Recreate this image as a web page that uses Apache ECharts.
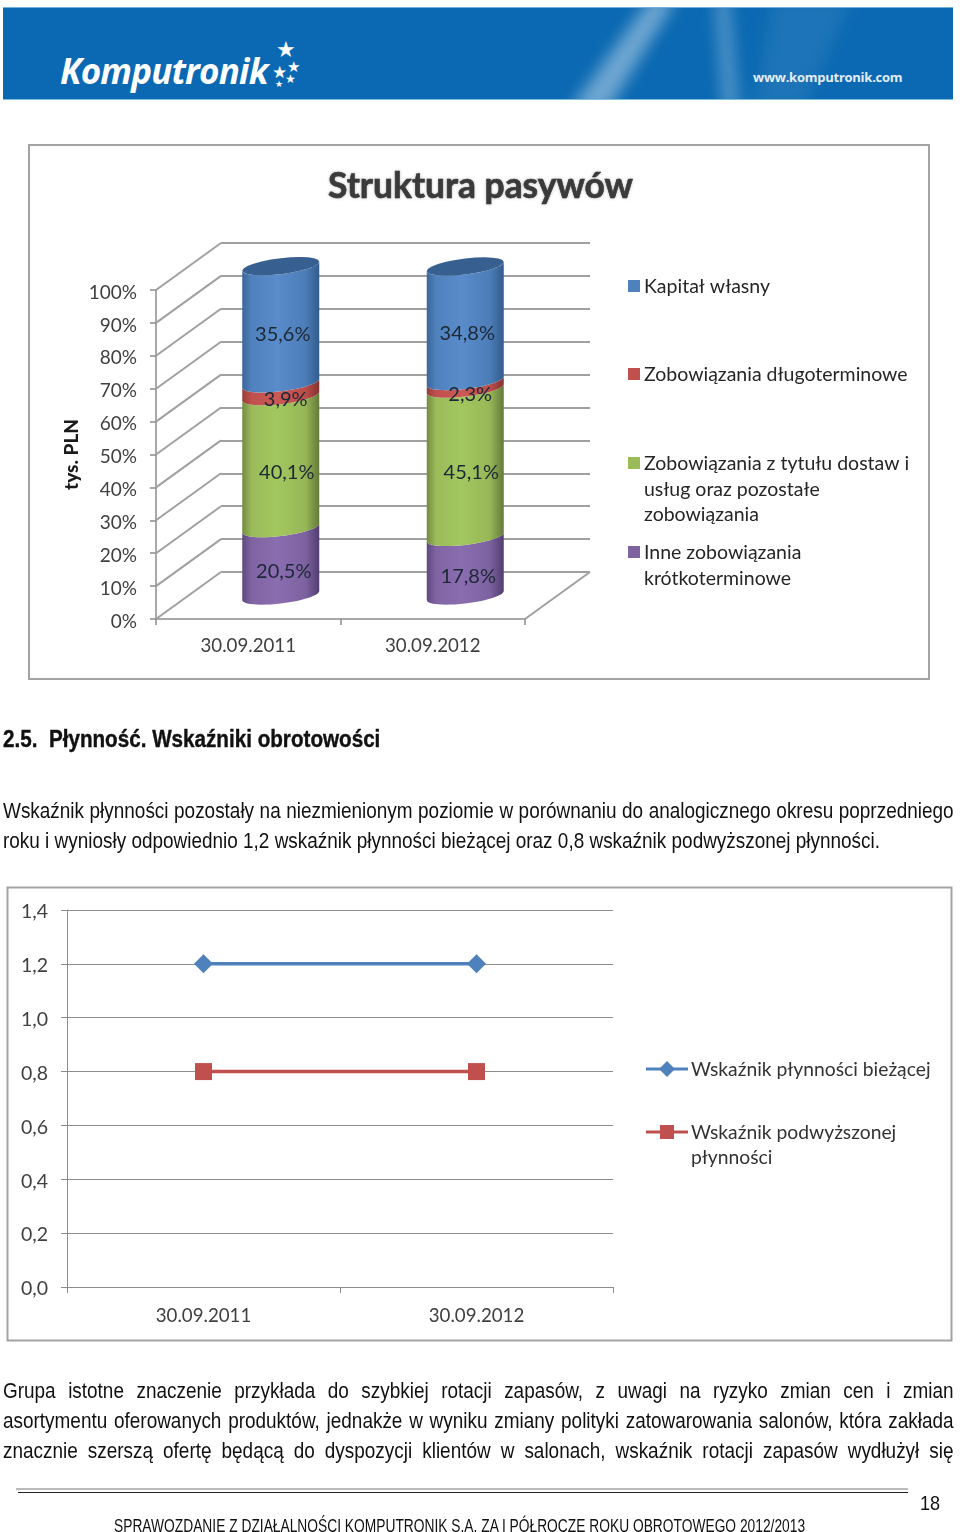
<!DOCTYPE html>
<html lang="pl">
<head>
<meta charset="utf-8">
<title>Struktura pasywów</title>
<script src="https://cdn.jsdelivr.net/npm/echarts@6/dist/echarts.min.js"></script>
<style>
  html, body { margin: 0; padding: 0; background: #fff; }
  #page { position: relative; width: 960px; height: 1532px; overflow: hidden; }
  #chart { position: absolute; left: 0; top: 0; width: 960px; height: 1532px; }
  .banner { position: absolute; left: 3px; top: 7px; width: 950px; height: 93px; background: #0a69b2; overflow: hidden;
    border-top: 1px solid #6fb0dc; border-bottom: 1px solid #7fbce2; box-sizing: border-box; }
  .rays { position: absolute; left: 0; top: -10px; width: 950px; height: 113px; filter: blur(8px); }
  .ray { position: absolute; left: 500px; top: 0; width: 400px; height: 113px; }
  .logo { position: absolute; left: 57px; top: 39px; color: #fff; font: italic bold 35px "Open Sans", sans-serif; letter-spacing: -0.8px; }
  .star { position: absolute; color: #fff; font-family: "DejaVu Sans"; line-height: 1; }
  .www { position: absolute; left: 750px; top: 60px; color: #e4edf5; font: bold 13px "Open Sans", sans-serif; letter-spacing: -0.25px; }
  /* brak fontu narrow, wiec Liberation Sans scisniety w poziomie */
  .line { position: absolute; left: 3px; width: 1104px; white-space: nowrap; color: #111; transform-origin: 0 0; transform: scaleX(.861);
    font: 22px "Liberation Sans", sans-serif; line-height: 30px; }
  .just { text-align: justify; text-align-last: justify; white-space: normal; }
  .heading { font-weight: bold; font-size: 24px; transform: scaleX(.86); -webkit-text-stroke: .4px #111; }
  .rule1 { position: absolute; left: 16px; top: 1488px; width: 892px; height: 2px; background: #bbb; }
  .rule2 { position: absolute; left: 18px; top: 1492px; width: 890px; height: 1px; background: #222; }
</style>
</head>
<body>
<div id="page">
  <div class="banner">
    <div class="rays">
      <div class="ray" style="background:rgba(255,255,255,.42);clip-path:polygon(148px 0,174px 0,104px 113px,66px 113px)"></div>
      <div class="ray" style="background:rgba(255,255,255,.3);clip-path:polygon(212px 0,226px 0,236px 113px,220px 113px)"></div>
      <div class="ray" style="background:rgba(255,255,255,.08);clip-path:polygon(270px 0,350px 0,300px 113px,250px 113px)"></div>
    </div>
    <div class="logo">Komputronik</div>
    <div class="star" style="left:273px;top:31px;font-size:22px">★</div>
    <div class="star" style="left:284px;top:52px;font-size:15px">★</div>
    <div class="star" style="left:269px;top:56px;font-size:17px">★</div>
    <div class="star" style="left:282px;top:65px;font-size:12px">★</div>
    <div class="star" style="left:272px;top:72px;font-size:9px">★</div>
    <div class="www">www.komputronik.com</div>
  </div>
  <div id="chart"></div>
  <div class="line heading" style="top:724px">2.5.&nbsp; Płynność. Wskaźniki obrotowości</div>
  <div class="line just" style="top:796px">Wskaźnik płynności pozostały na niezmienionym poziomie w porównaniu do analogicznego okresu poprzedniego</div>
  <div class="line" style="top:826px">roku i wyniosły odpowiednio 1,2 wskaźnik płynności bieżącej oraz 0,8 wskaźnik podwyższonej płynności.</div>
  <div class="line just" style="top:1376px">Grupa istotne znaczenie przykłada do szybkiej rotacji zapasów, z uwagi na ryzyko zmian cen i zmian</div>
  <div class="line just" style="top:1406px">asortymentu oferowanych produktów, jednakże w wyniku zmiany polityki zatowarowania salonów, która zakłada</div>
  <div class="line just" style="top:1436px">znacznie szerszą ofertę będącą do dyspozycji klientów w salonach, wskaźnik rotacji zapasów wydłużył się</div>
  <div class="rule1"></div>
  <div class="rule2"></div>
  <div class="line" style="left:920px;top:1488px;width:30px;font-size:21px">18</div>
  <div class="line" style="left:114px;top:1511px;width:920px;font-size:18px;transform:scaleX(.766)">SPRAWOZDANIE Z DZIAŁALNOŚCI KOMPUTRONIK S.A. ZA I PÓŁROCZE ROKU OBROTOWEGO 2012/2013</div>
</div>
<script>
// dane - struktura pasywow
const barDates = ['30.09.2011', '30.09.2012'];
const innePct = [20.5, 17.8];
const dostawyPct = [40.1, 45.1];
const dlugoPct = [3.9, 2.3];
const kapitalPct = [35.6, 34.8];
const percentTicks = [0, 10, 20, 30, 40, 50, 60, 70, 80, 90, 100];
const barLegend = ['Kapitał własny', 'Zobowiązania długoterminowe', 'Zobowiązania z tytułu dostaw i\nusług oraz pozostałe\nzobowiązania', 'Inne zobowiązania\nkrótkoterminowe'];

// dane - plynnosc
const lineDates = ['30.09.2011', '30.09.2012'];
const biezaca = [1.2, 1.2];
const podwyzszona = [0.8, 0.8];
const lineLegend = ['Wskaźnik płynności bieżącej', 'Wskaźnik podwyższonej\npłynności'];

const font = 'Lato';
const axisGray = '#8c8c8c';
const depthX = 65, depthY = -47;

// kolejnosc od dolu slupka
const stack = [innePct, dostawyPct, dlugoPct, kapitalPct];
const shades = [
  ['#5f4880', '#8064a2', '#8a6db0', '#7d62a0', '#523d70'],
  ['#728c41', '#9bbb59', '#a3c75f', '#97b756', '#64793a'],
  ['#943e3b', '#c0504d', '#cb5a56', '#bb4e4b', '#843330'],
  ['#3b6698', '#4f81bd', '#5a8ccb', '#4c7db8', '#325c8c']
];
const labelShift = [3, 6, 5, 2];

const pct = v => v.toFixed(1).replace('.', ',') + '%';

// luk elipsy podstawy walca, lekko pochylonej
const ellipse = (cx, cy, from, to) => {
  const a = 38.5, b = 8, k = 4.5, pts = [];
  for (let i = 0; i <= 24; i++) {
    const t = from + (to - from) * i / 24;
    pts.push([cx + a * Math.cos(t), cy + b * Math.sin(t) - k * Math.cos(t)]);
  }
  return pts;
};

const renderSegment = (layer) => (params, api) => {
  const i = api.value(0), val = api.value(1);
  let base = 0;
  for (let s = 0; s < layer; s++) base += stack[s][i];
  const low = api.coord([i, base]), high = api.coord([i, base + val]);
  const cx = low[0] + depthX / 2;
  const y0 = low[1] + depthY / 2, y1 = high[1] + depthY / 2;
  const c = shades[layer];
  const body = ellipse(cx, y0, Math.PI, 0).concat(ellipse(cx, y1, 0, Math.PI));
  const children = [{
    type: 'polygon',
    shape: { points: body },
    style: { fill: { type: 'linear', x: 0, y: 0, x2: 1, y2: 0, colorStops: [
      { offset: 0, color: c[0] }, { offset: 0.12, color: c[1] }, { offset: 0.45, color: c[2] },
      { offset: 0.82, color: c[3] }, { offset: 1, color: c[4] }] } }
  }];
  if (layer === stack.length - 1) {
    children.push({ type: 'polygon', shape: { points: ellipse(cx, y1, 0, Math.PI * 2) }, style: { fill: '#375f90' } });
  }
  children.push({
    type: 'text',
    z2: 10,
    style: { x: cx + labelShift[layer], y: (y0 + y1) / 2 + 10, text: pct(val), fill: '#1d2836', font: '20px ' + font, align: 'center', verticalAlign: 'middle' }
  });
  return { type: 'group', children };
};

// skosne linie sciany bocznej i podlogi
const renderWall = (params, api) => {
  const y = api.coord([0, api.value(1)])[1];
  const left = params.coordSys.x, right = left + params.coordSys.width;
  const style = { stroke: '#a0a0a0', lineWidth: 2, fill: 'none' };
  const lines = [{ type: 'line', shape: { x1: left, y1: y, x2: left + depthX, y2: y + depthY }, style }];
  if (api.value(1) === 0) lines.push({ type: 'line', shape: { x1: right, y1: y, x2: right + depthX, y2: y + depthY }, style });
  return { type: 'group', children: lines };
};

const legendRow = (color, text, x, y) => [
  { type: 'rect', shape: { x, y: y - 6, width: 12, height: 12 }, style: { fill: color } },
  { type: 'text', x: x + 16, y: y - 12, style: { text, fill: '#262626', font: '19.5px ' + font, lineHeight: 25.5 } }
];

const lineRow = (color, symbol, text, x, y) => {
  const marker = symbol === 'diamond'
    ? { type: 'polygon', shape: { points: [[x + 21, y - 8], [x + 29, y], [x + 21, y + 8], [x + 13, y]] }, style: { fill: color } }
    : { type: 'rect', shape: { x: x + 14, y: y - 7, width: 14, height: 14 }, style: { fill: color } };
  return [
    { type: 'line', shape: { x1: x, y1: y, x2: x + 42, y2: y }, style: { stroke: color, lineWidth: 3 } },
    marker,
    { type: 'text', x: x + 45, y: y - 12, style: { text, fill: '#333', font: '19.3px ' + font, lineHeight: 25.5 } }
  ];
};

const option = {
  animation: false,
  textStyle: { fontFamily: font },
  title: {
    text: 'Struktura pasywów', left: 323, top: 164,
    textStyle: { fontFamily: font, fontSize: 35.4, fontWeight: 'bold', color: '#3a3a3a', textBorderColor: '#3a3a3a', textBorderWidth: 0.6, textShadowColor: 'rgba(0,0,0,.25)', textShadowBlur: 3 }
  },
  grid: [
    { left: 156, top: 290, width: 369, height: 329 },           // uklad slupkow
    { left: 221, top: 243, width: 369, height: 329 },           // tylna sciana
    { left: 67, top: 910, width: 546, height: 377 }             // plynnosc
  ],
  xAxis: [
    {
      gridIndex: 0, type: 'category', data: barDates,
      axisLine: { lineStyle: { color: axisGray, width: 1.5 } },
      axisTick: { show: true, length: 6, lineStyle: { color: axisGray, width: 1.5 } },
      axisLabel: { color: '#404040', fontSize: 18.7, margin: 17 }
    },
    { gridIndex: 1, type: 'category', data: barDates, show: false },
    {
      gridIndex: 2, type: 'category', data: lineDates,
      axisLine: { lineStyle: { color: axisGray } },
      axisTick: { show: true, length: 6, lineStyle: { color: axisGray } },
      axisLabel: { color: '#404040', fontSize: 18.7, margin: 19 }
    }
  ],
  yAxis: [
    {
      gridIndex: 0, type: 'value', min: 0, max: 100, interval: 10,
      name: 'tys. PLN', nameLocation: 'middle', nameGap: 75,
      nameTextStyle: { color: '#1a1a1a', fontSize: 19, fontWeight: 900 },
      axisLine: { show: true, lineStyle: { color: axisGray, width: 1.5 } },
      axisTick: { show: true, length: 6, lineStyle: { color: axisGray, width: 1.5 } },
      axisLabel: {
        margin: 19, formatter: v => '{v|' + v + '%}',
        rich: { v: { color: '#404040', fontSize: 19, fontFamily: font, padding: [5, 0, 0, 0] } }
      },
      splitLine: { show: false }
    },
    {
      gridIndex: 1, type: 'value', min: 0, max: 100, interval: 10,
      axisLine: { show: false }, axisTick: { show: false }, axisLabel: { show: false },
      splitLine: { show: true, lineStyle: { color: '#a0a0a0', width: 2 } }
    },
    {
      gridIndex: 2, type: 'value', min: 0, max: 1.4, interval: 0.2,
      axisLine: { show: true, lineStyle: { color: axisGray } },
      axisTick: { show: true, length: 6, lineStyle: { color: axisGray } },
      axisLabel: {
        margin: 19, formatter: v => '{v|' + v.toFixed(1).replace('.', ',') + '}',
        rich: { v: { color: '#404040', fontSize: 19.5, fontFamily: font, padding: [4, 0, 0, 0] } }
      },
      splitLine: { show: true, lineStyle: { color: '#8c8c8c', width: 1 } }
    }
  ],
  graphic: [
    { type: 'rect', z: -1, shape: { x: 29, y: 145, width: 900, height: 534 }, style: { fill: '#fff', stroke: '#a3a3a3', lineWidth: 2 } },
    { type: 'rect', z: -1, shape: { x: 7.5, y: 887.5, width: 944, height: 453 }, style: { fill: '#fff', stroke: '#a3a3a3', lineWidth: 2 } },
    ...legendRow(shades[3][1], barLegend[0], 628, 286),
    ...legendRow(shades[2][1], barLegend[1], 628, 374),
    ...legendRow(shades[1][1], barLegend[2], 628, 463),
    ...legendRow(shades[0][1], barLegend[3], 628, 552),
    ...lineRow('#4f81bd', 'diamond', lineLegend[0], 646, 1069),
    ...lineRow('#c0504d', 'rect', lineLegend[1], 646, 1132)
  ],
  series: [
    { type: 'custom', name: 'ściana', xAxisIndex: 0, yAxisIndex: 0, silent: true, renderItem: renderWall, data: percentTicks.map(v => [0, v]), z: 1 },
    ...stack.map((vals, layer) => ({
      type: 'custom',
      name: barLegend[3 - layer].replace(/\n/g, ' '),
      xAxisIndex: 0, yAxisIndex: 0,
      renderItem: renderSegment(layer),
      data: vals.map((v, i) => [i, v]),
      z: 3
    })),
    {
      type: 'line', name: 'Wskaźnik płynności bieżącej', xAxisIndex: 2, yAxisIndex: 2, data: biezaca,
      symbol: 'diamond', symbolSize: 19, lineStyle: { color: '#4f81bd', width: 3.5 }, itemStyle: { color: '#4f81bd' }
    },
    {
      type: 'line', name: 'Wskaźnik podwyższonej płynności', xAxisIndex: 2, yAxisIndex: 2, data: podwyzszona,
      symbol: 'rect', symbolSize: 17, lineStyle: { color: '#c0504d', width: 3.5 }, itemStyle: { color: '#c0504d' }
    }
  ]
};

const chart = echarts.init(document.getElementById('chart'));
chart.setOption(option);
</script>
</body>
</html>
